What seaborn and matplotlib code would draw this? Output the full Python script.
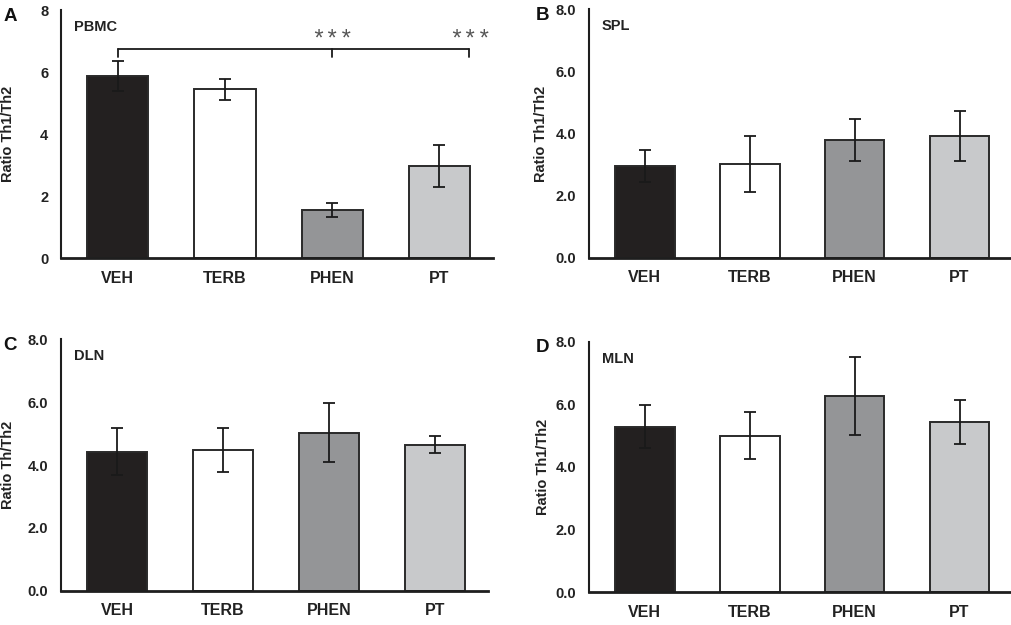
import matplotlib
matplotlib.use("Agg")
import matplotlib.pyplot as plt
import seaborn as sns
import pandas as pd
import numpy as np

sns.set_style("white")
plt.rcParams["font.family"] = ["Liberation Sans", "DejaVu Sans"]

groups = ["VEH", "TERB", "PHEN", "PT"]
colors = ["#231f20", "#ffffff", "#939598", "#c8c9cb"]

pbmc_mean = [5.87, 5.44, 1.54, 2.97]
pbmc_err = [0.48, 0.34, 0.22, 0.68]
spl_mean = [2.95, 3.01, 3.79, 3.92]
spl_err = [0.52, 0.91, 0.67, 0.79]
dln_mean = [4.42, 4.48, 5.03, 4.65]
dln_err = [0.75, 0.70, 0.93, 0.27]
mln_mean = [5.29, 4.99, 6.27, 5.44]
mln_err = [0.68, 0.75, 1.24, 0.69]

panels = [
    ("A", "PBMC", pbmc_mean, pbmc_err, "Ratio Th1/Th2", [0, 2, 4, 6, 8], ["0", "2", "4", "6", "8"]),
    ("B", "SPL", spl_mean, spl_err, "Ratio Th1/Th2", [0, 2, 4, 6, 8], ["0.0", "2.0", "4.0", "6.0", "8.0"]),
    ("C", "DLN", dln_mean, dln_err, "Ratio Th/Th2", [0, 2, 4, 6, 8], ["0.0", "2.0", "4.0", "6.0", "8.0"]),
    ("D", "MLN", mln_mean, mln_err, "Ratio Th1/Th2", [0, 2, 4, 6, 8], ["0.0", "2.0", "4.0", "6.0", "8.0"]),
]

# axes rectangles [left, bottom, width, height] in figure fraction
rects = [
    [61 / 1012, 1 - 258 / 625, 432 / 1012, 248 / 625],
    [589 / 1012, 1 - 257.7 / 625, 423 / 1012, 248.4 / 625],
    [61 / 1012, 1 - 590.7 / 625, 427 / 1012, 251.4 / 625],
    [589 / 1012, 1 - 592.3 / 625, 423 / 1012, 250.6 / 625],
]
label_x = [-0.106, -0.097, -0.108, -0.092]
letter_x = [-0.134, -0.125, -0.136, -0.125]

fig = plt.figure(figsize=(10.12, 6.25), dpi=100)
axis_col = "#1e1e1e"

for (letter, tissue, mean, err, ylab, yt, ytl), rect, lx, ltx in zip(panels, rects, label_x, letter_x):
    ax = fig.add_axes(rect)
    df = pd.DataFrame({"group": groups, "ratio": mean})
    sns.barplot(data=df, x="group", y="ratio", hue="group", palette=colors,
                order=groups, hue_order=groups, legend=False, width=0.57,
                edgecolor="#2a2a2a", linewidth=1.4, errorbar=None, ax=ax)
    ax.errorbar(np.arange(len(groups)), mean, yerr=err, fmt="none",
                ecolor="#1a1a1a", elinewidth=1.3, capsize=4.5, capthick=1.3, zorder=5)
    ax.set_xlim(-0.53, 3.5)
    ax.set_ylim(0, 8)
    ax.set_yticks(yt)
    ax.set_yticklabels(ytl)
    ax.set_xlabel("")
    ax.set_ylabel(ylab, fontsize=10.5, fontweight="bold", color="#222222")
    ax.yaxis.set_label_coords(lx, 0.5)
    for s in ["top", "right"]:
        ax.spines[s].set_visible(False)
    ax.spines["left"].set_linewidth(1.5)
    ax.spines["left"].set_color(axis_col)
    ax.spines["bottom"].set_linewidth(2.0)
    ax.spines["bottom"].set_color(axis_col)
    ax.spines["bottom"].set_zorder(6)
    ax.tick_params(axis="y", direction="out", length=4, width=1.3, color=axis_col,
                   labelsize=10.5, pad=5, labelcolor="#222222")
    ax.tick_params(axis="x", length=0, labelsize=11.5, pad=9, labelcolor="#222222")
    for lbl in ax.get_xticklabels() + ax.get_yticklabels():
        lbl.set_fontweight("bold")
    ax.text(0.03, 0.96, tissue, transform=ax.transAxes, fontsize=10.5,
            fontweight="bold", color="#222222", ha="left", va="top")
    ax.text(ltx, 1.01, letter, transform=ax.transAxes, fontsize=13.5,
            fontweight="bold", color="#111111", ha="left", va="top")

    if letter == "A":
        y0, y1 = 6.75, 6.49
        xs = [0, 2, 3.28]
        ax.plot([xs[0], xs[-1]], [y0, y0], color="#1a1a1a", lw=1.3, zorder=6)
        for xx in xs:
            ax.plot([xx, xx], [y0, y1], color="#1a1a1a", lw=1.3, zorder=6)
        for xx in [2, 3.29]:
            ax.text(xx, 7.02, "***", ha="center", va="center", fontsize=17,
                    color="#555555", family=["Liberation Mono", "DejaVu Sans Mono"])

fig.savefig("out.png", dpi=100)
